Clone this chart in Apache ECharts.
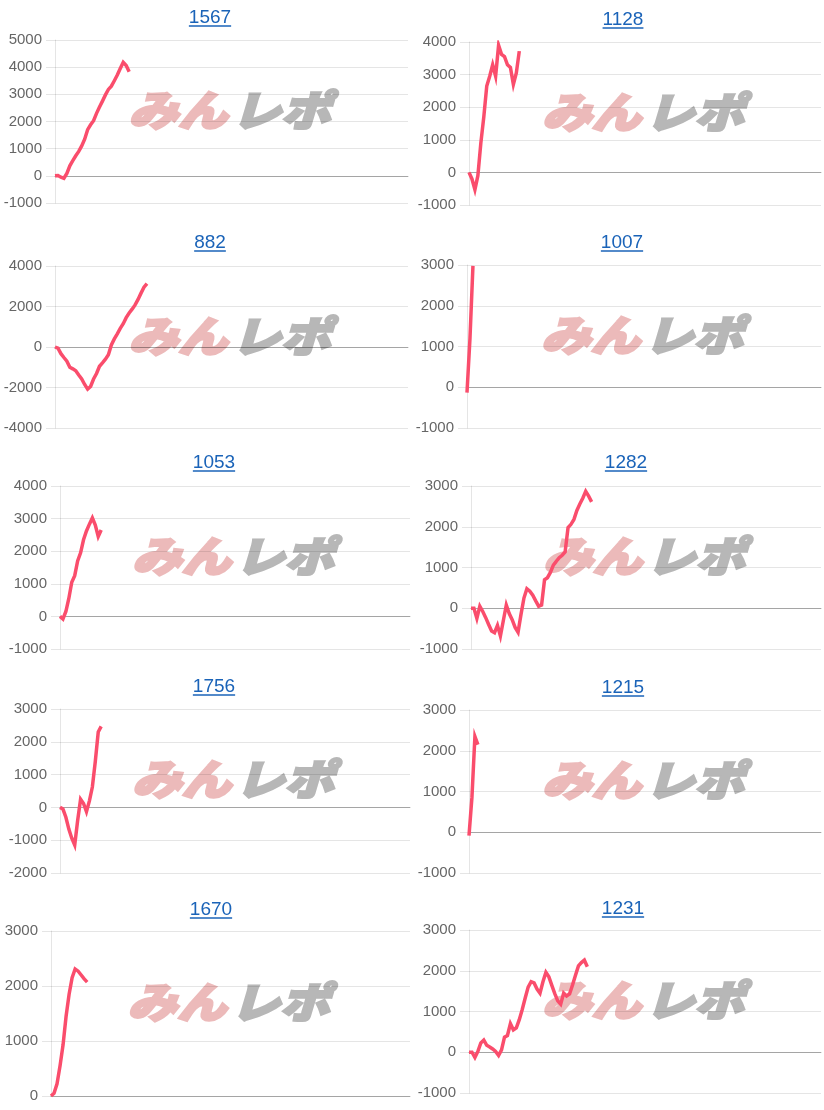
<!DOCTYPE html>
<html>
<head>
<meta charset="utf-8">
<script src="https://cdn.jsdelivr.net/npm/echarts@6/dist/echarts.min.js"></script>
<style>
  html, body { margin: 0; padding: 0; background: #ffffff; }
  #chart { width: 824px; height: 1110px; }
</style>
</head>
<body>
<div id="chart"></div>
<script>
// ---------- DATA ----------
const TITLES = ['1567', '1128', '882', '1007', '1053', '1282', '1756', '1215', '1670', '1231'];

const CATEGORIES = [];
for (let i = 1; i <= 120; i++) CATEGORIES.push(String(i));

const S_1567 = [0, 10, -50, -90, 90, 370, 560, 740, 900, 1100, 1350, 1700, 1880, 2030, 2300, 2530, 2750, 2980, 3180, 3300, 3500, 3710, 3950, 4180, 4060, 3830];
const S_1128 = [0, -200, -530, -100, 900, 1700, 2650, 2950, 3300, 2950, 3900, 3620, 3550, 3300, 3220, 2700, 3050, 3720];
const S_882 = [0, -60, -330, -520, -700, -1000, -1080, -1170, -1380, -1580, -1850, -2080, -1950, -1580, -1310, -950, -780, -600, -380, 100, 400, 650, 920, 1150, 1450, 1680, 1870, 2080, 2350, 2660, 2950, 3130];
const S_1007 = [-130, 1200, 2980];
const S_1053 = [0, -80, 150, 550, 1050, 1250, 1700, 1950, 2350, 2620, 2830, 3020, 2800, 2450, 2650];
const S_1282 = [0, 0, -250, 50, -80, -230, -400, -560, -600, -420, -680, -300, 80, -130, -280, -470, -590, -150, 250, 480, 420, 320, 180, 50, 80, 700, 750, 880, 1060, 1150, 1240, 1300, 1380, 1980, 2060, 2180, 2400, 2560, 2700, 2870, 2750, 2610];
const S_1756 = [0, -50, -300, -660, -940, -1150, -400, 250, 120, -130, 200, 620, 1400, 2300, 2470];
const S_1215 = [-80, 860, 2350, 2150];
const S_1670 = [0, 50, 220, 550, 930, 1450, 1850, 2150, 2310, 2270, 2200, 2130, 2070];
const S_1231 = [0, 0, -130, 20, 230, 300, 170, 130, 80, 20, -80, 60, 370, 410, 700, 550, 600, 800, 1050, 1330, 1600, 1730, 1700, 1550, 1450, 1730, 1960, 1850, 1640, 1440, 1260, 1180, 1450, 1380, 1430, 1650, 1890, 2120, 2200, 2260, 2100];

const SERIES = [S_1567, S_1128, S_882, S_1007, S_1053, S_1282, S_1756, S_1215, S_1670, S_1231];

// y-axis tick ranges (min, max, step)
const Y_MIN  = [-1000, -1000, -4000, -1000, -1000, -1000, -2000, -1000, 0, -1000];
const Y_MAX  = [5000, 4000, 4000, 3000, 4000, 3000, 3000, 3000, 3000, 3000];
const Y_STEP = [1000, 1000, 2000, 1000, 1000, 1000, 1000, 1000, 1000, 1000];

// ---------- LAYOUT ----------
const GRIDS = [
  { left: 55,  top: 40,  width: 353, height: 163 },
  { left: 469, top: 42,  width: 352, height: 163 },
  { left: 55,  top: 266, width: 353, height: 162 },
  { left: 467, top: 265, width: 354, height: 163 },
  { left: 60,  top: 486, width: 350, height: 163 },
  { left: 471, top: 486, width: 350, height: 163 },
  { left: 60,  top: 709, width: 350, height: 164 },
  { left: 469, top: 710, width: 352, height: 163 },
  { left: 51,  top: 931, width: 359, height: 165 },
  { left: 469, top: 930, width: 352, height: 163 }
];
const TITLE_CX = [210, 623, 210, 622, 214, 626, 214, 623, 211, 623];
const TITLE_BASE = [24, 26, 249, 249, 469, 469, 693, 694, 916, 915];

const LINE_COLOR = '#fa4d6c';
const LINK_COLOR = '#1a63b8';
const TITLE_FONT = 19;
const FONT = '"Liberation Sans", Arial, Helvetica, sans-serif';

const measure = (function () {
  const c = document.createElement('canvas').getContext('2d');
  return function (t, size) { c.font = size + 'px ' + FONT; return c.measureText(t).width; };
})();

const grids = [], xAxes = [], yAxes = [], series = [], titles = [], graphics = [];

for (let i = 0; i < 10; i++) {
  const g = GRIDS[i];
  grids.push({ left: g.left, top: g.top, width: g.width, height: g.height, containLabel: false });

  xAxes.push({
    type: 'category', gridIndex: i, data: CATEGORIES, boundaryGap: false,
    axisLabel: { show: false }, axisTick: { show: false },
    axisLine: { show: true, onZero: true, lineStyle: { color: 'rgba(0,0,0,0.28)', width: 1 } },
    splitLine: { show: false }
  });

  yAxes.push({
    type: 'value', gridIndex: i, min: Y_MIN[i], max: Y_MAX[i], interval: Y_STEP[i],
    axisLine: { show: true, lineStyle: { color: 'rgba(0,0,0,0.1)' } },
    axisTick: { show: true, length: 9, lineStyle: { color: 'rgba(0,0,0,0.1)' } },
    splitLine: { show: true, lineStyle: { color: 'rgba(0,0,0,0.1)', width: 1 } },
    axisLabel: {
      color: '#666666', fontSize: 15, fontFamily: FONT, margin: 13,
      formatter: function (v) { return String(v); }
    }
  });

  series.push({
    type: 'line', xAxisIndex: i, yAxisIndex: i, data: SERIES[i],
    showSymbol: false, symbol: 'none', smooth: false, z: 5,
    lineStyle: { color: LINE_COLOR, width: 3.5, join: 'miter' },
    animation: false
  });

  const tw = measure(TITLES[i], TITLE_FONT);
  titles.push({
    text: TITLES[i], left: TITLE_CX[i] - tw / 2, top: TITLE_BASE[i] - 16,
    padding: 0,
    textStyle: { color: LINK_COLOR, fontSize: TITLE_FONT, fontWeight: 'normal', fontFamily: FONT }
  });

  graphics.push({
    type: 'line', z: 10,
    shape: { x1: TITLE_CX[i] - tw / 2, y1: TITLE_BASE[i] + 2, x2: TITLE_CX[i] + tw / 2, y2: TITLE_BASE[i] + 2 },
    style: { stroke: LINK_COLOR, lineWidth: 1.5 }
  });

  // watermark
  const cx = g.left + g.width / 2 - 2;
  const cy = g.top + g.height * 0.43;
  graphics.push({
    type: 'text', z: -1, silent: true, x: cx - 2, y: cy, scaleX: 1.18,
    style: { text: 'みん', fill: '#ecbaba', stroke: '#ecbaba', lineWidth: 2.5, font: 'italic 900 42px "Noto Sans CJK JP"', textAlign: 'right', textVerticalAlign: 'middle' }
  });
  graphics.push({
    type: 'text', z: -1, silent: true, x: cx + 2, y: cy, scaleX: 1.18,
    style: { text: 'レポ', fill: '#b7b7b7', stroke: '#b7b7b7', lineWidth: 2.5, font: 'italic 900 42px "Noto Sans CJK JP"', textAlign: 'left', textVerticalAlign: 'middle' }
  });
}

const chart = echarts.init(document.getElementById('chart'), null, { renderer: 'canvas' });
chart.setOption({
  animation: false,
  backgroundColor: '#ffffff',
  title: titles,
  grid: grids,
  xAxis: xAxes,
  yAxis: yAxes,
  series: series,
  graphic: { elements: graphics }
});
</script>
</body>
</html>
